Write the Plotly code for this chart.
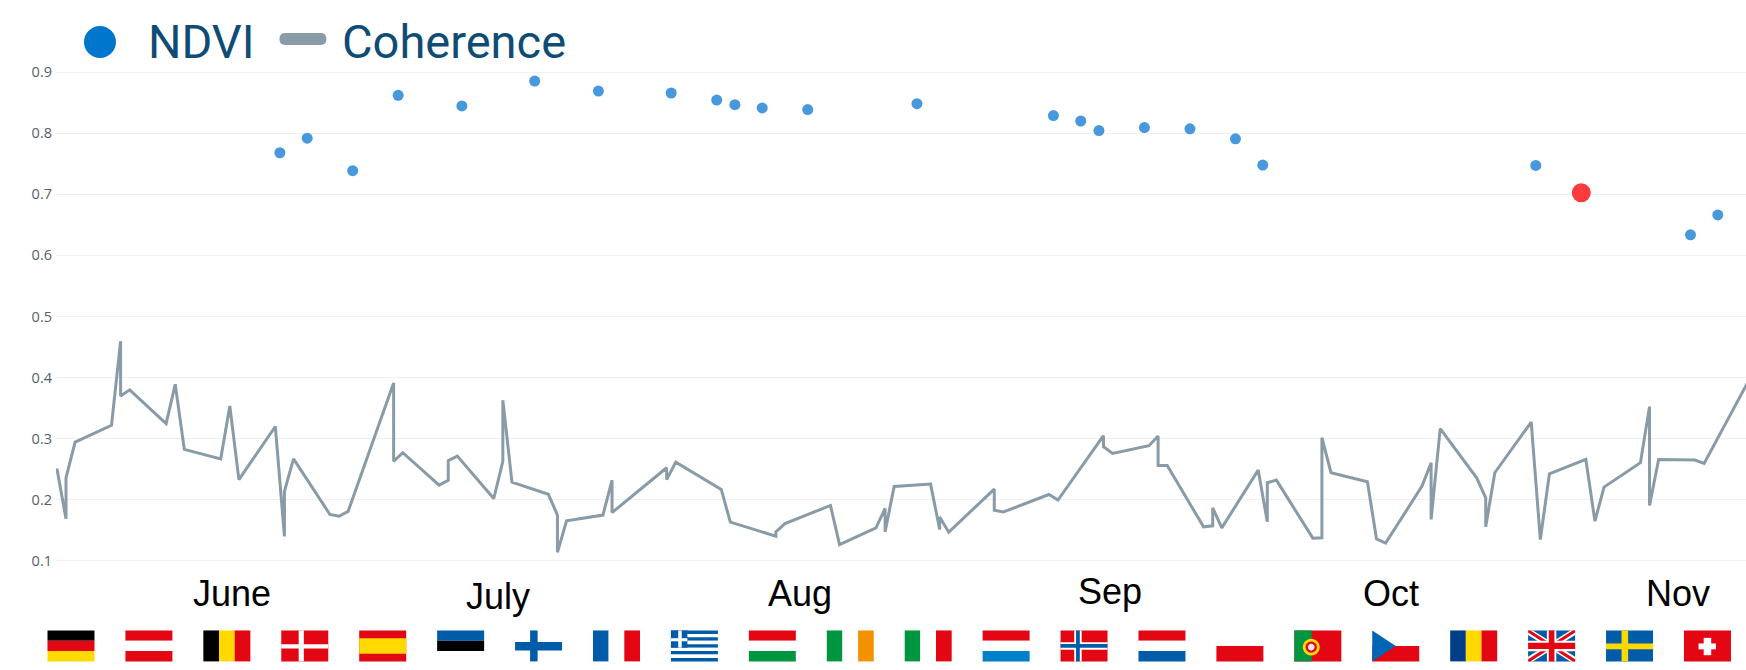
import math
import plotly.graph_objects as go
import pandas as pd

# ---------- data ----------
START_DATE = "2019-05-27"
month_labels = ["June", "July", "Aug", "Sep", "Oct", "Nov"]
month_label_days = [19.2, 48.5, 81.6, 115.7, 146.6, 178.1]

coherence_days = [
    0, 0, 1, 1, 2, 6, 7, 7, 8, 12, 13, 14, 18, 19, 20, 24, 25, 25, 26, 30, 31, 32,
    37, 37, 38, 42, 43, 43, 44, 48, 49, 49, 50, 54, 55, 55, 56, 60, 61, 61,
    67, 67, 68, 73, 74, 79, 79, 80, 85, 86, 90, 91, 91, 92, 96, 97, 97, 98,
    103, 103, 104, 109, 110, 115, 115, 116, 120, 121, 121, 122, 126, 127, 127, 128,
    132, 133, 133, 134, 138, 139, 139, 140, 144, 145, 146, 150, 151, 151, 152,
    156, 157, 157, 158, 162, 163, 164, 168, 169, 170, 174, 175, 175, 176, 180, 181, 186,
]
coherence_values = [
    .244, .251, .169, .236, .2945, .322, .4596, .370, .380, .3246, .389, .2825,
    .267, .3536, .233, .320, .140, .214, .267, .176, .173, .181,
    .391, .263, .277, .224, .232, .264, .2716, .202, .263, .363, .229, .209, .175, .114, .1656,
    .175, .232, .179,
    .2525, .233, .2617, .217, .1634, .1404, .1475, .161, .1907, .1268, .154, .1858, .1475, .2219,
    .2257, .1514, .172, .147,
    .2175, .183, .18, .2087, .1995, .305, .287, .276, .2885, .3044, .256, .256,
    .1557, .1574, .1869, .154,
    .2486, .164, .2279, .2322, .1372, .1377, .3016, .2443, .2295, .136, .129,
    .2224, .2607, .1678, .3164, .236, .2033, .1557, .2443, .3273, .135, .2426,
    .2661, .165, .2208, .2607, .3525, .1907, .2661, .265, .2596, .398,
]

ndvi_days = [
    24.5, 27.5, 32.5, 37.5, 44.5, 52.5, 59.5, 67.5, 72.5, 74.5, 77.5, 82.5, 94.5,
    109.5, 112.5, 114.5, 119.5, 124.5, 129.5, 132.5, 162.5, 167.5, 179.5, 182.5,
]
ndvi_values = [
    .768, .7918, .7386, .862, .8446, .8853, .869, .8658, .8543, .8467, .8413, .8386, .8484,
    .8288, .82, .8043, .8092, .8071, .7908, .7478, .7473, .7027, .6337, .6663,
]
ndvi_highlight_day = 167.5
y_ticks = [.1, .2, .3, .4, .5, .6, .7, .8, .9]

# ---------- styling ----------
W, H = 1746, 670
L, R, T, B = 55.5, 0, 66, 102.5
PW, PH = W - L - R, H - T - B
RED, BLUE, YELLOW, GREEN, BLACK, WHITE = "#e30613", "#005ca9", "#ffd900", "#009640", "#000000", "#ffffff"


def to_date(days):
    return pd.Timestamp(START_DATE) + pd.to_timedelta(days, unit="D")


def px(x):
    return (x - L) / PW


def py(y):
    return (H - B - y) / PH


# ---------- flags, described in unit squares ----------
def rect(c, x0, y0, x1, y1):
    return (c, [(x0, y0), (x1, y0), (x1, y1), (x0, y1)])


def ellipse(c, cx, cy, rx, ry, n=24):
    return (c, [(cx + rx * math.cos(2 * math.pi * k / n), cy + ry * math.sin(2 * math.pi * k / n)) for k in range(n)])


def hstripes(*cs):
    n = len(cs)
    return [rect(c, 0, i / n, 1, (i + 1) / n) for i, c in enumerate(cs)]


def vstripes(*cs):
    n = len(cs)
    return [rect(c, i / n, 0, (i + 1) / n, 1) for i, c in enumerate(cs)]


def nordic(bg, cross, vert, horiz):
    return [rect(bg, 0, 0, 1, 1), rect(cross, vert[0], 0, vert[1], 1), rect(cross, 0, horiz[0], 1, horiz[1])]


greece = [rect(BLUE if i % 2 == 0 else WHITE, 0, i / 9, 1, (i + 1) / 9) for i in range(9)] + [
    rect(BLUE, 0, 0, .35, 5 / 9), rect(WHITE, .155, 0, .23, 5 / 9), rect(WHITE, 0, .25, .35, .35),
]
uk = [
    rect(BLUE, 0, 0, 1, 1),
    (WHITE, [(0, 0), (.1, 0), (1, .85), (1, 1), (.9, 1), (0, .15)]),
    (WHITE, [(1, 0), (.9, 0), (0, .85), (0, 1), (.1, 1), (1, .15)]),
    (RED, [(0, 0), (.05, 0), (1, .93), (1, 1), (.95, 1), (0, .07)]),
    (RED, [(1, 0), (.95, 0), (0, .93), (0, 1), (.05, 1), (1, .07)]),
    rect(WHITE, .4, 0, .6, 1), rect(WHITE, 0, .33, 1, .67),
    rect(RED, .44, 0, .56, 1), rect(RED, 0, .4, 1, .6),
]
portugal = [
    rect(RED, 0, 0, 1, 1), rect(GREEN, 0, 0, .37, 1),
    ellipse(YELLOW, .36, .54, .18, .27), ellipse(RED, .36, .54, .12, .18), ellipse("#e8e8f0", .36, .54, .07, .11),
]
czech = [
    rect(WHITE, 0, 0, 1, .5), rect(RED, 0, .5, 1, 1),
    ("#0065b3", [(0, 0), (.5, .5), (0, 1)]),
]
swiss = [rect(RED, 0, 0, 1, 1), rect(WHITE, .42, .24, .58, .8), rect(WHITE, .31, .42, .68, .61)]
norway = nordic(RED, WHITE, (.29, .45), (.38, .62)) + [rect(BLUE, .33, 0, .41, 1), rect(BLUE, 0, .44, 1, .56)]

flags = [
    hstripes(BLACK, RED, YELLOW),
    hstripes(RED, WHITE, RED),
    vstripes(BLACK, YELLOW, RED),
    nordic(RED, WHITE, (.37, .48), (.45, .58)),
    [rect(RED, 0, 0, 1, 1), rect(YELLOW, 0, .25, 1, .75)],
    hstripes(BLUE, BLACK, WHITE),
    nordic(WHITE, BLUE, (.32, .48), (.37, .65)),
    vstripes(BLUE, WHITE, RED),
    greece,
    hstripes(RED, WHITE, GREEN),
    vstripes(GREEN, WHITE, "#f39200"),
    vstripes(GREEN, WHITE, RED),
    hstripes(RED, WHITE, "#0080c8"),
    norway,
    hstripes(RED, WHITE, BLUE),
    hstripes(WHITE, RED),
    portugal,
    czech,
    vstripes("#003f87", YELLOW, RED),
    uk,
    nordic(BLUE, YELLOW, (.33, .47), (.42, .61)),
    swiss,
]

shapes = []
FLAG_X0, FLAG_PITCH, FLAG_W, FLAG_Y0, FLAG_H = 47, 77.95, 47, 631, 31
for i, parts in enumerate(flags):
    x0 = FLAG_X0 + FLAG_PITCH * i
    for color, pts in parts:
        path = "M" + " L".join(
            f"{px(x0 + u * FLAG_W):.5f},{py(FLAG_Y0 + v * FLAG_H):.5f}" for u, v in pts
        ) + " Z"
        shapes.append(dict(type="path", xref="paper", yref="paper", path=path,
                           fillcolor=color, line=dict(width=0), layer="above"))

# hand-drawn legend: white patch over the top gridline, dot and pill
shapes.append(dict(type="rect", xref="paper", yref="paper", x0=px(71.5), x1=px(267), y0=py(74), y1=py(0),
                   fillcolor="white", line=dict(width=0), layer="below"))
shapes.append(dict(type="circle", xref="paper", yref="paper", x0=px(83.5), x1=px(115.5), y0=py(58), y1=py(26),
                   fillcolor="#0077cc", line=dict(width=0), layer="above"))
shapes.append(dict(type="path", xref="paper", yref="paper",
                   path=(f"M{px(285):.5f},{py(33):.5f} L{px(320):.5f},{py(33):.5f} "
                         f"Q{px(326):.5f},{py(33):.5f} {px(326):.5f},{py(39):.5f} "
                         f"Q{px(326):.5f},{py(45):.5f} {px(320):.5f},{py(45):.5f} "
                         f"L{px(285):.5f},{py(45):.5f} "
                         f"Q{px(279):.5f},{py(45):.5f} {px(279):.5f},{py(39):.5f} "
                         f"Q{px(279):.5f},{py(33):.5f} {px(285):.5f},{py(33):.5f} Z"),
                   fillcolor="#8a9ba8", line=dict(width=0), layer="above"))

annotations = [
    dict(text=t, xref="x", yref="paper", x=to_date(d), y=py(594), showarrow=False, xanchor="center",
         yanchor="middle", font=dict(family="Liberation Sans", size=36, color="#000000"))
    for t, d in zip(month_labels, month_label_days)
]
annotations[1]["y"] = py(597)
annotations[3]["y"] = py(592.5)
annotations += [
    dict(text=t, xref="paper", yref="paper", x=px(x), y=py(41), showarrow=False, xanchor="left", yanchor="middle",
         font=dict(family="Roboto", size=47, color="#0f4c75"))
    for t, x in (("NDVI", 146), ("Coherence", 340))
]

fig = go.Figure()
fig.add_trace(go.Scatter(
    x=to_date(coherence_days), y=coherence_values, mode="lines", name="Coherence",
    line=dict(color="#8a9ba8", width=3), showlegend=False, hoverinfo="skip",
))
fig.add_trace(go.Scatter(
    x=to_date(ndvi_days), y=ndvi_values, mode="markers", name="NDVI", showlegend=False,
    marker=dict(
        color=["#fb3b3d" if d == ndvi_highlight_day else "#4798dc" for d in ndvi_days],
        size=[19 if d == ndvi_highlight_day else 11 for d in ndvi_days],
        opacity=1,
        line=dict(width=0),
    ),
))
fig.update_layout(
    width=W, height=H, autosize=False,
    margin=dict(l=L, r=R, t=T, b=B, pad=0),
    paper_bgcolor="white", plot_bgcolor="white", showlegend=False,
    shapes=shapes, annotations=annotations,
    xaxis=dict(type="date", range=[to_date(-0.1), to_date(185.6)], showticklabels=False, showgrid=False,
               zeroline=False, showline=False, ticks=""),
    yaxis=dict(range=[.09, .91], tickvals=y_ticks, tickformat=".1f", showgrid=True, gridcolor="#eef0f2",
               gridwidth=1.2, zeroline=False, showline=False, ticks="", ticklabelstandoff=3,
               tickfont=dict(family="Open Sans", size=14.5, color="#54606c")),
)
fig.write_html("out.html", config=dict(displayModeBar=False),
               post_script="document.body.style.margin='0';document.body.style.overflow='hidden';")
